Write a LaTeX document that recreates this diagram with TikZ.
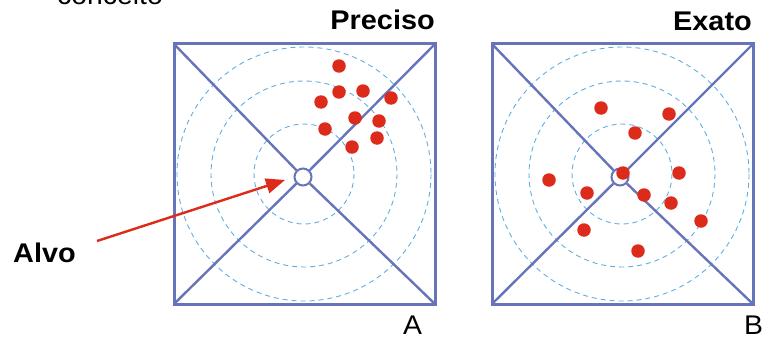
\documentclass[tikz,border=0pt]{standalone}
\usepackage{fontspec}
\setmainfont{Liberation Sans}
\usetikzlibrary{arrows.meta}
\definecolor{frameblue}{RGB}{104,116,184}
\definecolor{ringblue}{RGB}{96,174,226}
\definecolor{dotred}{RGB}{220,42,27}
\begin{document}
\begin{tikzpicture}[x=1pt,y=-1pt,
  frame/.style={draw=frameblue,line width=3pt},
  diag/.style={draw=frameblue,line width=2.4pt},
  ring/.style={draw=ringblue,line width=0.9pt,dash pattern=on 5pt off 4pt},
  target/.style={circle,draw=frameblue,line width=2pt,fill=white,minimum size=17pt,inner sep=0pt},
  hit/.style={circle,fill=dotred,minimum size=13.5pt,inner sep=0pt},
  title/.style={font=\bfseries\fontsize{27}{30}\selectfont,xscale=1.07,inner sep=0pt},
  plain/.style={font=\fontsize{27}{30}\selectfont,xscale=1.05,inner sep=0pt}]
\useasboundingbox (0,0) rectangle (778,337);
\clip (0,0) rectangle (778,337);

% top cut text
\node[plain,anchor=base west] (concept) at (57,4.5) {conceito};

% ---------- Left panel ----------
\coordinate (A1) at (174,44);
\coordinate (A2) at (435,44);
\coordinate (A3) at (435,304);
\coordinate (A4) at (174,304);
\foreach \r in {50,93,127} \draw[ring] (304,174) circle (\r);
\node[target] (tA) at (303,177) {};
\draw[diag] (A1) -- (tA);
\draw[diag] (A2) -- (tA);
\draw[diag] (A3) -- (tA);
\draw[diag] (A4) -- (tA);
\draw[frame] (A1) -- (A2) -- (A3) -- (A4) -- cycle;
\node[hit] (a1) at (339,66) {};
\node[hit] (a2) at (339,92) {};
\node[hit] (a3) at (363,91) {};
\node[hit] (a4) at (321,102) {};
\node[hit] (a5) at (391,98) {};
\node[hit] (a6) at (355,118) {};
\node[hit] (a7) at (379,121) {};
\node[hit] (a8) at (325,129) {};
\node[hit] (a9) at (377,138) {};
\node[hit] (a10) at (352,147) {};
\node[title,anchor=base east] (prec) at (435,29.5) {Preciso};
\node[plain,anchor=base west] (labA) at (403,334) {A};

% ---------- Right panel ----------
\coordinate (B1) at (492,44);
\coordinate (B2) at (753,44);
\coordinate (B3) at (753,304);
\coordinate (B4) at (492,304);
\foreach \r in {50,93,127} \draw[ring] (622,174) circle (\r);
\node[target] (tB) at (620,177) {};
\draw[diag] (B1) -- (tB);
\draw[diag] (B2) -- (tB);
\draw[diag] (B3) -- (tB);
\draw[diag] (B4) -- (tB);
\draw[frame] (B1) -- (B2) -- (B3) -- (B4) -- cycle;
\node[hit] (b1) at (601,108) {};
\node[hit] (b2) at (669,114) {};
\node[hit] (b3) at (635,133) {};
\node[hit] (b4) at (623,173) {};
\node[hit] (b5) at (679,173) {};
\node[hit] (b6) at (549,180) {};
\node[hit] (b7) at (587,193) {};
\node[hit] (b8) at (644,195) {};
\node[hit] (b9) at (671,203) {};
\node[hit] (b10) at (701,221) {};
\node[hit] (b11) at (584,230) {};
\node[hit] (b12) at (638,251) {};
\node[title,anchor=base east] (exa) at (752,31) {Exato};
\node[plain,anchor=base west] (labB) at (744,334) {B};

% ---------- Alvo arrow ----------
\node[title,anchor=base west] (alvo) at (13,262) {Alvo};
\coordinate (arrStart) at (97,241);
\coordinate (arrEnd) at (285,180);
\draw[dotred,line width=2.4pt,-{Triangle[length=19pt,width=15pt]}] (arrStart) -- (arrEnd);
\end{tikzpicture}
\end{document}
